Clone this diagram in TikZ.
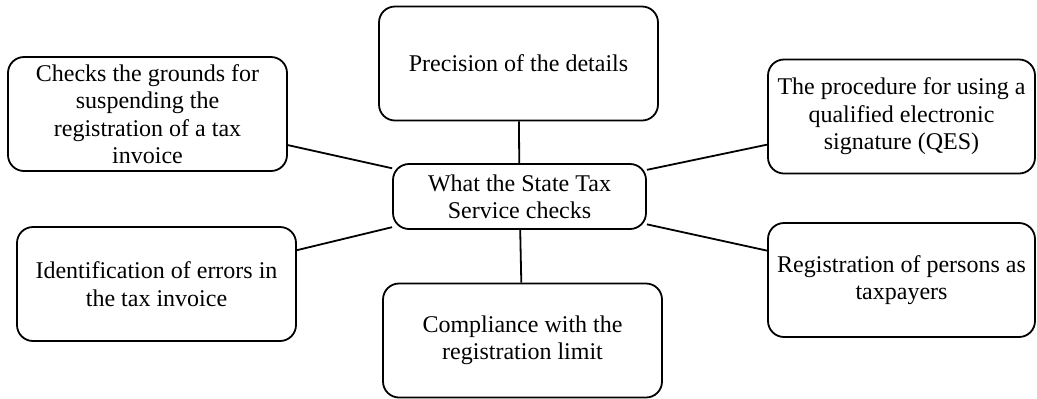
\documentclass[tikz,border=0pt]{standalone}
\usepackage{fontspec}
\setmainfont{Liberation Serif}
\usepackage{tikz}
\usetikzlibrary{positioning}

\begin{document}
\begin{tikzpicture}[x=0.5pt,y=-0.5pt,
    box/.style={draw, line width=0.9pt, rounded corners=8pt, align=center,
      font=\fontsize{12}{13.7}\selectfont, inner sep=2pt},
    item/.style={box, minimum width=139.5pt, minimum height=57pt},
    itemR/.style={box, minimum width=133.5pt, minimum height=57pt},
    hub/.style={box, minimum width=126.5pt, minimum height=32.5pt}]
  \useasboundingbox (0,0) rectangle (1037,398);
  % centre node
  \node[hub] (sts) at (519.5,196.5) {What the State Tax\\Service checks};
  % surrounding items
  \node[item]  (details)  at (518.5,63.5)  {Precision of the details};
  \node[item]  (grounds)  at (147.5,114)   {Checks the grounds for\\suspending the\\registration of a tax\\invoice};
  \node[itemR] (qes)      at (901.5,116.5) {The procedure for using a\\qualified electronic\\signature (QES)};
  \node[item]  (errors)   at (156.5,284)   {Identification of errors in\\the tax invoice};
  \node[item]  (limit)    at (522.5,340.5) {Compliance with the\\registration limit};
  \node[itemR] (payers)   at (901.5,280)   {Registration of persons as\\taxpayers};
  % spokes
  \foreach \n in {details,grounds,qes,errors,limit,payers}
    \draw[line width=0.9pt] (sts) -- (\n);
\end{tikzpicture}
\end{document}
